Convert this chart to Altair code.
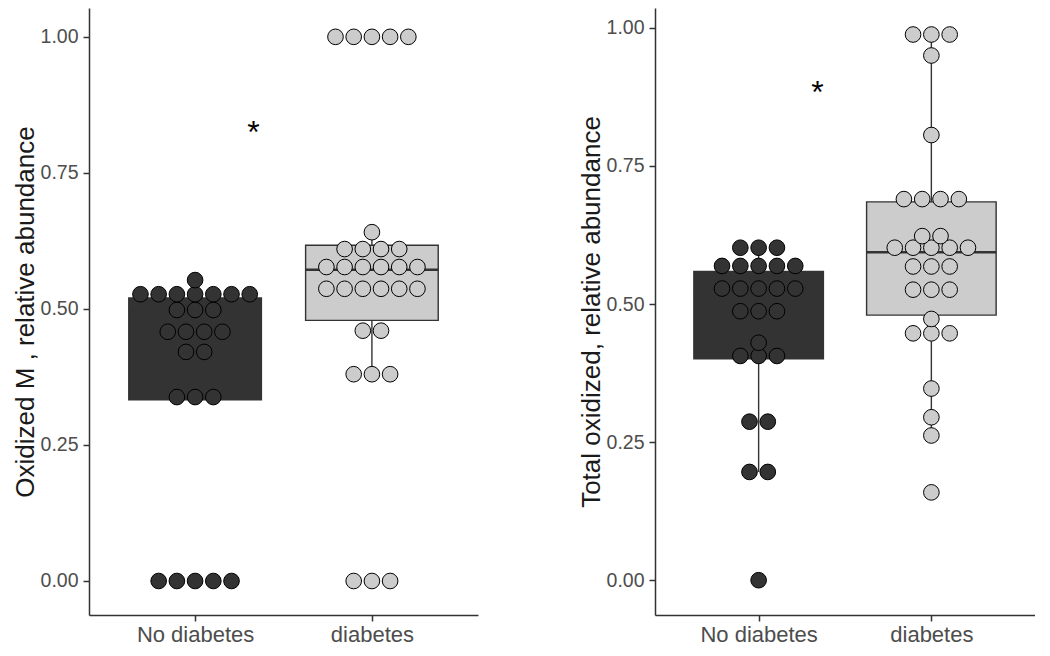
import altair as alt
import pandas as pd

FONT = "Liberation Sans"
GROUPS = ["No diabetes", "diabetes"]
FILLS = ["#333333", "#cccccc"]

# ---- Panel 1: Oxidized M (dot values and how many dots share each value)
M_NO_VALUES = [0.0, 0.338, 0.421, 0.458, 0.498, 0.527, 0.553]
M_NO_COUNTS = [5, 3, 2, 4, 3, 7, 1]
M_DI_VALUES = [0.0, 0.38, 0.46, 0.537, 0.577, 0.61, 0.641, 1.0]
M_DI_COUNTS = [3, 3, 2, 6, 6, 4, 1, 5]
M_Q1 = [0.333, 0.479]
M_MED = [0.497, 0.572]
M_Q3 = [0.52, 0.617]
M_LO = [0.333, 0.38]
M_HI = [0.553, 0.641]
M_STAR = [1.33, 0.838]

# ---- Panel 2: Total oxidized
T_NO_VALUES = [0.0, 0.196, 0.287, 0.406, 0.43, 0.487, 0.528, 0.569, 0.602]
T_NO_COUNTS = [1, 2, 2, 3, 1, 3, 5, 5, 3]
T_DI_VALUES = [0.159, 0.262, 0.295, 0.347, 0.447, 0.473, 0.526, 0.568,
               0.602, 0.623, 0.69, 0.806, 0.95, 0.988]
T_DI_COUNTS = [1, 1, 1, 1, 3, 1, 3, 3, 5, 2, 4, 1, 1, 3]
T_Q1 = [0.401, 0.48]
T_MED = [0.528, 0.594]
T_Q3 = [0.559, 0.685]
T_LO = [0.196, 0.262]
T_HI = [0.602, 0.988]
T_STAR = [1.34, 0.897]

Y_TICKS = [0.0, 0.25, 0.5, 0.75, 1.0]


def dots_frame(no_vals, no_counts, di_vals, di_counts):
    rows = []
    for gi, (vals, cnts) in enumerate([(no_vals, no_counts), (di_vals, di_counts)]):
        for v, c in zip(vals, cnts):
            for _ in range(c):
                rows.append({"g": gi + 1, "grp": GROUPS[gi], "v": v})
    return pd.DataFrame(rows)


def box_frame(q1, med, q3, lo, hi):
    return pd.DataFrame({"g": [1, 2], "grp": GROUPS, "q1": q1, "med": med,
                         "q3": q3, "lo": lo, "hi": hi})


label_expr = "datum.value == 1 ? '%s' : '%s'" % (GROUPS[0], GROUPS[1])


def panel(dots, box, star, title, ydomain, width, height, dot_step):
    xs = alt.Scale(domain=[0.4, 2.6], nice=False, zero=False)
    ys = alt.Scale(domain=ydomain, nice=False, zero=False)
    xax = alt.Axis(values=[1, 2], labelExpr=label_expr, title=None, grid=False,
                   labelFontSize=22, labelColor="#4d4d4d", labelFont=FONT,
                   tickSize=6, labelPadding=3, domainColor="#333333",
                   tickColor="#333333", domainWidth=1.5, tickWidth=1.5)
    yax = alt.Axis(values=Y_TICKS, format=".2f", title=title, grid=False,
                   labelFontSize=19.5, labelColor="#4d4d4d", labelFont=FONT,
                   titleFont=FONT, titleFontSize=26, titleFontWeight="normal",
                   titleColor="#1a1a1a", titlePadding=2, labelPadding=5,
                   tickSize=6, domainColor="#333333", tickColor="#333333",
                   domainWidth=1.5, tickWidth=1.5)
    fill = alt.Fill("grp:N", scale=alt.Scale(domain=GROUPS, range=FILLS), legend=None)

    bbase = alt.Chart(box).transform_calculate(
        x1="datum.g - 0.375", x2="datum.g + 0.375")
    whisk = bbase.mark_rule(color="#333333", strokeWidth=1.4).encode(
        x=alt.X("g:Q", scale=xs, axis=xax), y=alt.Y("lo:Q", scale=ys, axis=yax),
        y2="hi:Q")
    rect = bbase.mark_rect(stroke="#333333", strokeWidth=1.4).encode(
        x=alt.X("x1:Q", scale=xs, axis=xax), x2="x2:Q",
        y=alt.Y("q1:Q", scale=ys, axis=yax), y2="q3:Q", fill=fill)
    med = bbase.mark_rule(color="#333333", strokeWidth=2.5).encode(
        x=alt.X("x1:Q", scale=xs, axis=xax), x2="x2:Q",
        y=alt.Y("med:Q", scale=ys, axis=yax))
    pts = alt.Chart(dots).transform_window(
        rank="row_number()", groupby=["g", "v"]
    ).transform_joinaggregate(
        n="count()", groupby=["g", "v"]
    ).transform_calculate(
        xp="datum.g + (datum.rank - (datum.n + 1) / 2) * %f" % dot_step
    ).mark_circle(size=245, opacity=1, stroke="#000000", strokeWidth=1).encode(
        x=alt.X("xp:Q", scale=xs, axis=xax), y=alt.Y("v:Q", scale=ys, axis=yax),
        fill=fill)
    star_df = pd.DataFrame({"x": [star[0]], "y": [star[1]], "t": ["*"]})
    st = alt.Chart(star_df).mark_text(fontSize=32, font=FONT, color="#000000",
                                      baseline="middle", dy=8).encode(
        x=alt.X("x:Q", scale=xs, axis=xax), y=alt.Y("y:Q", scale=ys, axis=yax),
        text="t:N")
    return alt.layer(whisk, rect, med, pts, st).properties(width=width, height=height)


left = panel(dots_frame(M_NO_VALUES, M_NO_COUNTS, M_DI_VALUES, M_DI_COUNTS),
             box_frame(M_Q1, M_MED, M_Q3, M_LO, M_HI), M_STAR,
             "Oxidized M , relative abundance", [-0.0625, 1.053], 389, 607, 0.103)
right = panel(dots_frame(T_NO_VALUES, T_NO_COUNTS, T_DI_VALUES, T_DI_COUNTS),
              box_frame(T_Q1, T_MED, T_Q3, T_LO, T_HI), T_STAR,
              "Total oxidized, relative abundance", [-0.063, 1.036], 380, 607, 0.106)

chart = alt.hconcat(left, right, spacing=100).properties(
    padding={"left": 4, "top": 0, "right": 0, "bottom": 0}, background="#ffffff"
).configure_view(stroke=None)

chart.save("out.html", embed_options={"renderer": "svg", "actions": False})
